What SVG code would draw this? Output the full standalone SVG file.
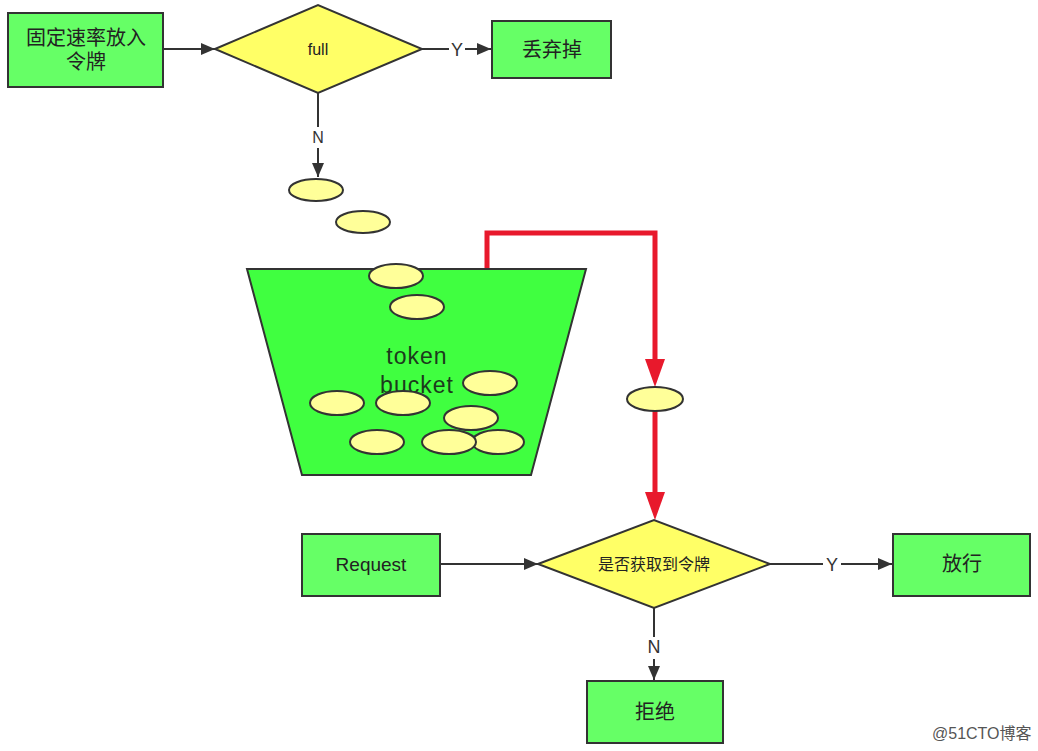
<svg xmlns="http://www.w3.org/2000/svg" width="1038" height="751" viewBox="0 0 1038 751">
<style>
  .box{fill:#66ff66;stroke:#333;stroke-width:2}
  .dia{fill:#ffff66;stroke:#333;stroke-width:2}
  .tok{fill:#ffff99;stroke:#333;stroke-width:2}
  .bucket{fill:#40ff40;stroke:#333;stroke-width:2}
  .t{font-family:"Liberation Sans","Noto Sans CJK SC",sans-serif;fill:#222;text-anchor:middle}
  .cn{font-size:20px}
  .lbl{font-size:18px;fill:#333}
  .ln{stroke:#333;stroke-width:2;fill:none}
  .red{stroke:#e8192c;stroke-width:5;fill:none}
</style>
<defs>
  <marker id="ah" viewBox="0 0 14 12" refX="14" refY="6" markerWidth="14" markerHeight="12" markerUnits="userSpaceOnUse" orient="auto">
    <path d="M0,0 L14,6 L0,12 z" fill="#333"/>
  </marker>
  <marker id="rh" viewBox="0 0 28 20" refX="18" refY="10" markerWidth="28" markerHeight="20" markerUnits="userSpaceOnUse" orient="auto">
    <path d="M0,0 L28,10 L0,20 z" fill="#e8192c"/>
  </marker>
</defs>
<rect width="1038" height="751" fill="#fff"/>

<g id="connectors">
  <line class="ln" x1="164" y1="49" x2="215" y2="49" marker-end="url(#ah)"/>
  <line class="ln" x1="422" y1="49" x2="449" y2="49"/>
  <line class="ln" x1="465" y1="49" x2="491" y2="49" marker-end="url(#ah)"/>
  <text class="t lbl" x="457" y="56">Y</text>
  <line class="ln" x1="318" y1="93" x2="318" y2="127"/>
  <line class="ln" x1="318" y1="148" x2="318" y2="177" marker-end="url(#ah)"/>
  <text class="t lbl" x="318" y="143" style="font-size:16px">N</text>
  <path class="red" d="M487,269 V233 H655 V377" marker-end="url(#rh)"/>
  <line class="red" x1="655" y1="411" x2="655" y2="510" marker-end="url(#rh)"/>
  <line class="ln" x1="440" y1="564" x2="538" y2="564" marker-end="url(#ah)"/>
  <line class="ln" x1="770" y1="564" x2="823" y2="564"/>
  <line class="ln" x1="841" y1="564" x2="892" y2="564" marker-end="url(#ah)"/>
  <text class="t lbl" x="832" y="571">Y</text>
  <line class="ln" x1="654" y1="608" x2="654" y2="637"/>
  <line class="ln" x1="654" y1="659" x2="654" y2="680" marker-end="url(#ah)"/>
  <text class="t lbl" x="654" y="653">N</text>
</g>

<g id="node-put">
  <rect class="box" x="8" y="13" width="155" height="74"/>
  <text class="t cn" x="86" y="45">固定速率放入</text>
  <text class="t cn" x="86" y="69">令牌</text>
</g>
<g id="node-full">
  <polygon class="dia" points="215,49 318,5 422,49 318,93"/>
  <text class="t" x="318" y="55" style="font-size:16px">full</text>
</g>
<g id="node-discard">
  <rect class="box" x="492" y="21" width="119" height="57"/>
  <text class="t cn" x="552" y="57">丢弃掉</text>
</g>

<g id="falling-tokens">
  <ellipse class="tok" cx="316" cy="190" rx="27" ry="11"/>
  <ellipse class="tok" cx="363" cy="222" rx="27" ry="11"/>
</g>

<g id="node-bucket">
  <polygon class="bucket" points="247,269 586,269 531,475 302,475"/>
  <text class="t" x="417" y="364" style="font-size:23px;letter-spacing:1px;fill:#1c3a1c">token</text>
  <text class="t" x="417" y="393" style="font-size:23px;letter-spacing:1px;fill:#1c3a1c">bucket</text>
  <ellipse class="tok" cx="396" cy="276" rx="27" ry="12"/>
  <ellipse class="tok" cx="417" cy="307" rx="27" ry="12"/>
  <ellipse class="tok" cx="490" cy="383" rx="27" ry="12"/>
  <ellipse class="tok" cx="337" cy="403" rx="27" ry="12"/>
  <ellipse class="tok" cx="403" cy="403" rx="27" ry="12"/>
  <ellipse class="tok" cx="471" cy="418" rx="27" ry="12"/>
  <ellipse class="tok" cx="377" cy="442" rx="27" ry="12"/>
  <ellipse class="tok" cx="498" cy="442" rx="26" ry="12"/>
  <ellipse class="tok" cx="449" cy="442" rx="27" ry="12"/>
</g>

<g id="moving-token">
  <ellipse class="tok" cx="655" cy="399" rx="28" ry="12"/>
</g>

<g id="node-request">
  <rect class="box" x="302" y="534" width="138" height="62"/>
  <text class="t" x="371" y="571" style="font-size:19px">Request</text>
</g>
<g id="node-check">
  <polygon class="dia" points="538,564 654,520 770,564 654,608"/>
  <text class="t" x="654" y="570" style="font-size:16px">是否获取到令牌</text>
</g>
<g id="node-pass">
  <rect class="box" x="893" y="534" width="137" height="62"/>
  <text class="t cn" x="962" y="571">放行</text>
</g>
<g id="node-reject">
  <rect class="box" x="587" y="681" width="136" height="62"/>
  <text class="t cn" x="655" y="719">拒绝</text>
</g>

<text x="932" y="739" style="font-family:'Liberation Sans','Noto Sans CJK SC',sans-serif;font-size:16px;fill:#555">@51CTO博客</text>
</svg>
